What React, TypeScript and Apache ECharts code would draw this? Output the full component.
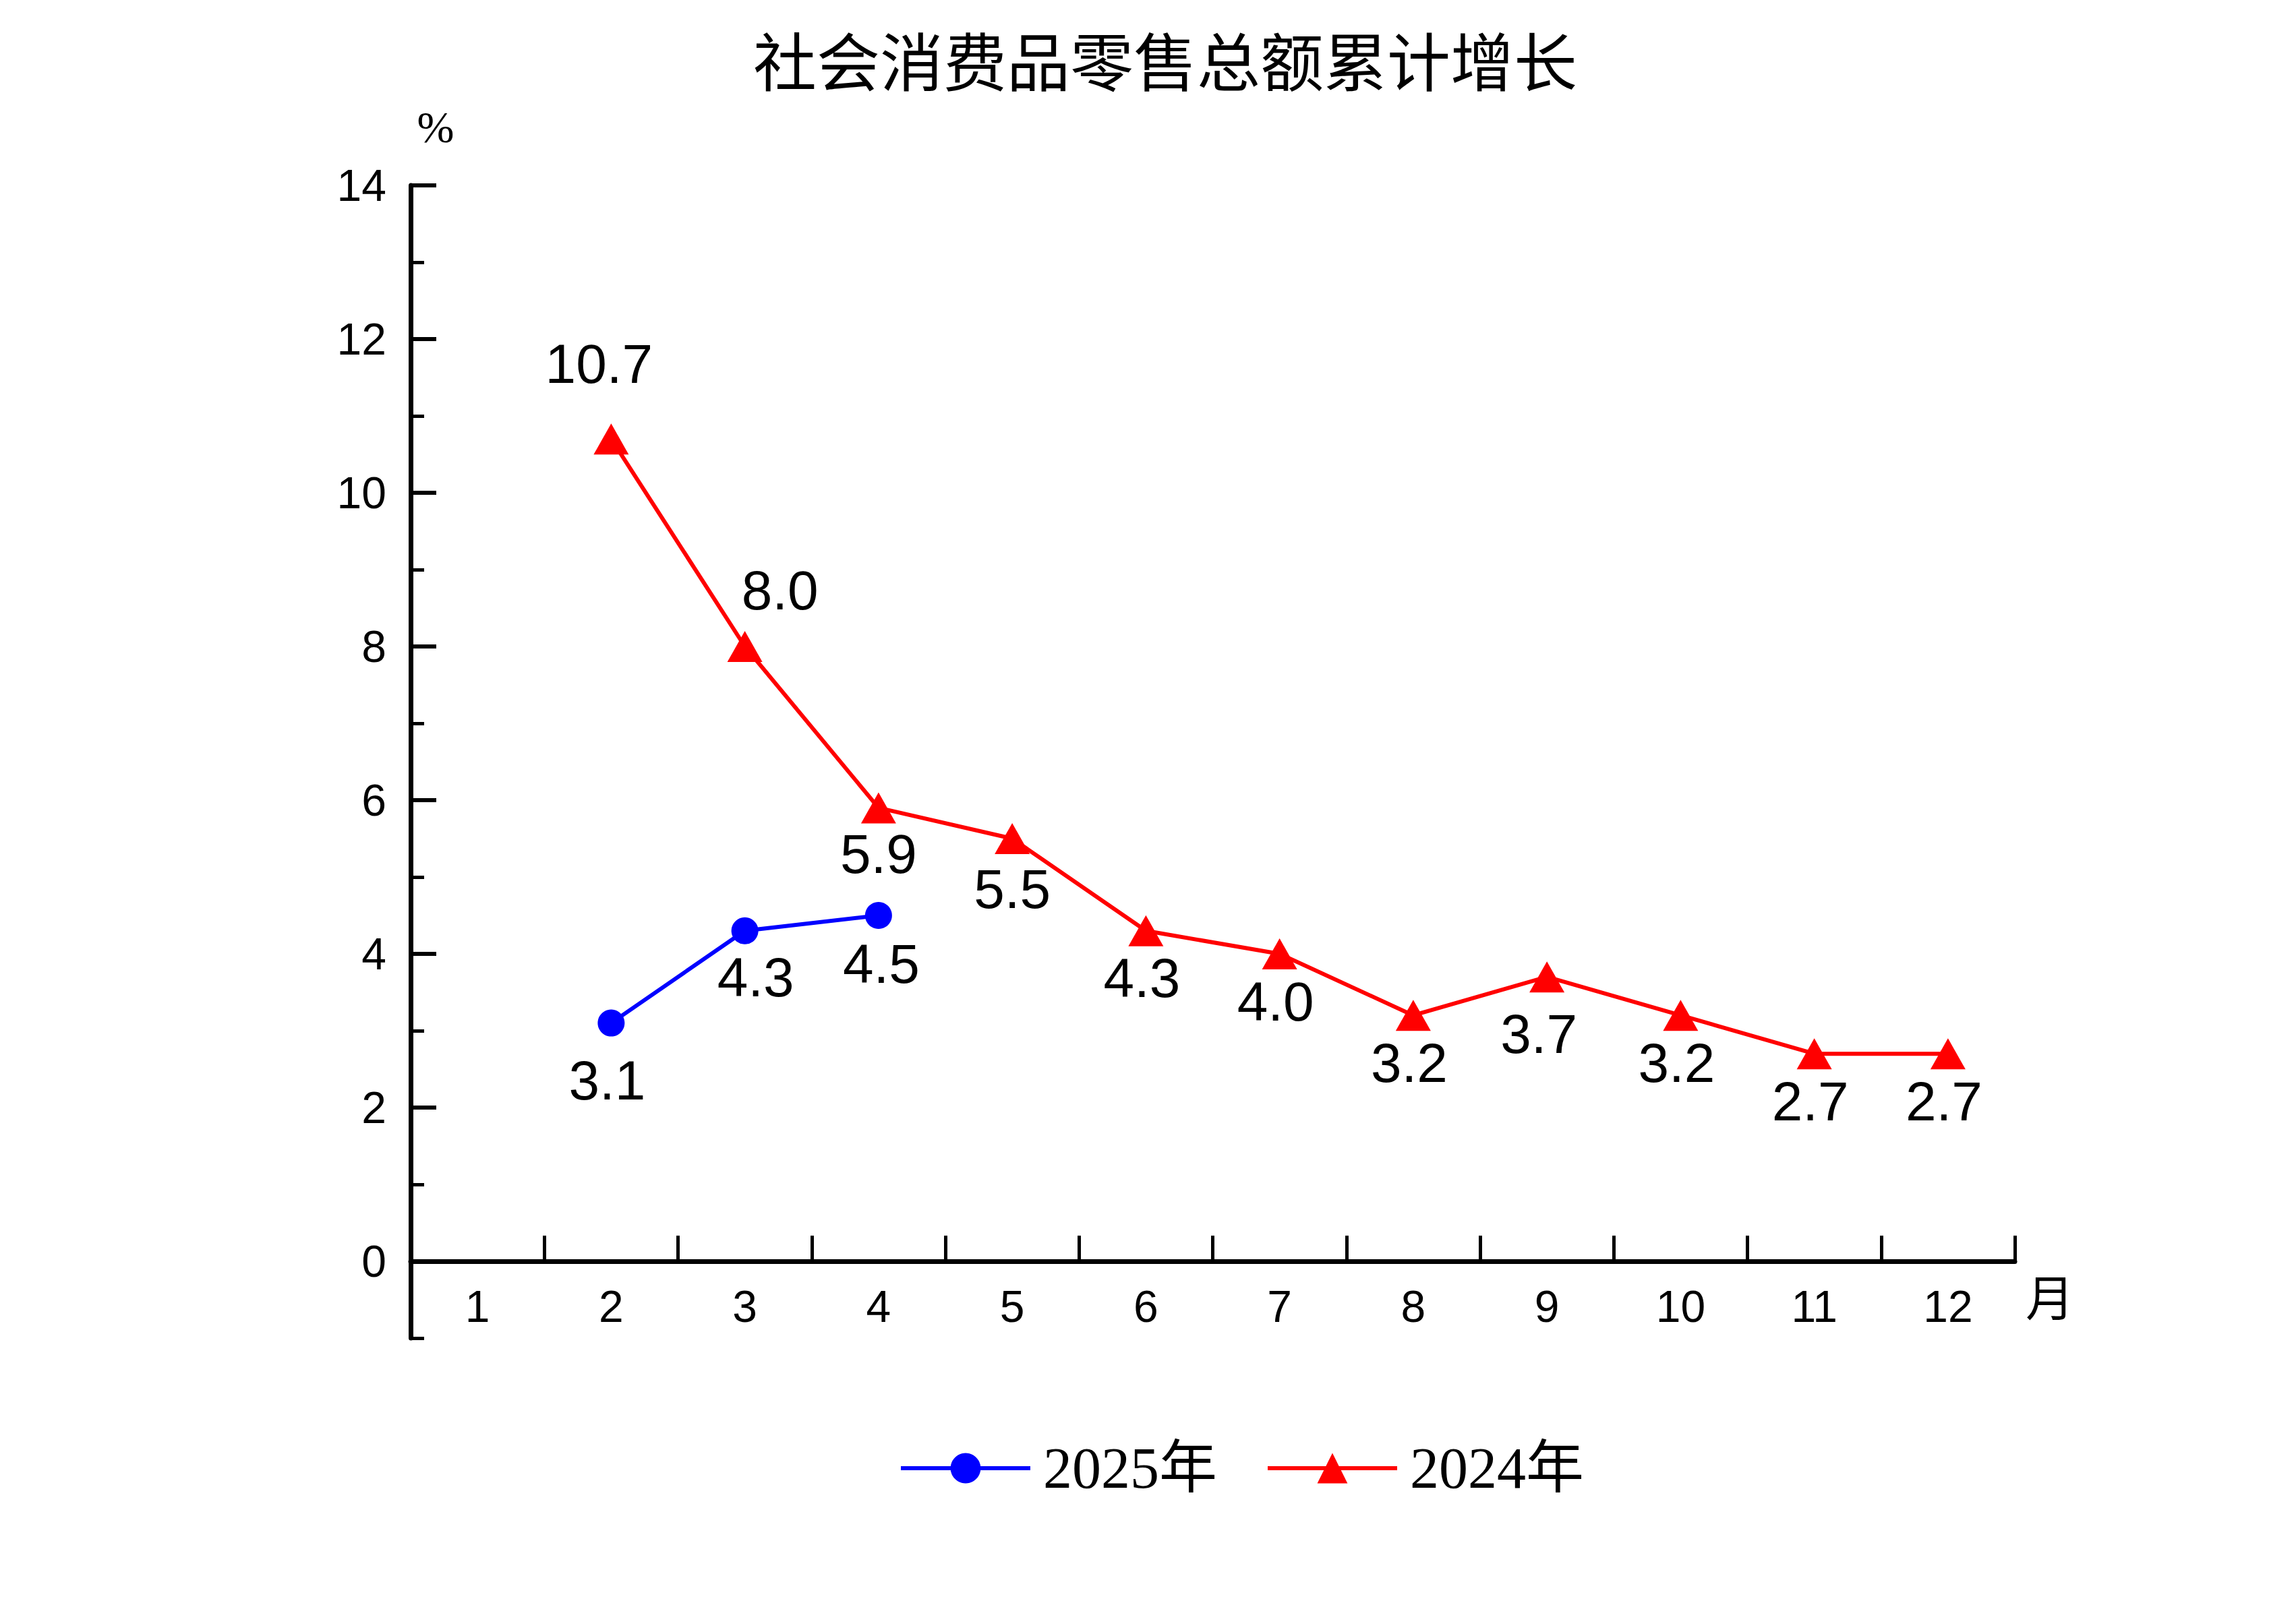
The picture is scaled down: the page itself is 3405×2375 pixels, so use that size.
import React, { useEffect, useRef } from "react";
import * as echarts from "echarts";

const months = ["1", "2", "3", "4", "5", "6", "7", "8", "9", "10", "11", "12"];
const growth2025: (number | null)[] = [null, 3.1, 4.3, 4.5, null, null, null, null, null, null, null, null];
const growth2024: (number | null)[] = [null, 10.7, 8.0, 5.9, 5.5, 4.3, 4.0, 3.2, 3.7, 3.2, 2.7, 2.7];
const yTicksMajor = [0, 2, 4, 6, 8, 10, 12, 14];
const seriesNames = ["2025年", "2024年"];
const titleText = "社会消费品零售总额累计增长";

const W = 3405;
const H = 2375;
const SANS = "'Liberation Sans', Arial, sans-serif";
const SERIF = "'Liberation Serif', 'Noto Sans CJK SC', serif";

export default function App() {
  const ref = useRef<HTMLDivElement>(null);
  useEffect(() => {
    if (!ref.current) return;
    const chart = echarts.init(ref.current, null, { renderer: "svg", width: W, height: H });
    const gridLeft = 609;
    const gridRight = W - 2988;
    const gridTop = 275;
    const zeroY = 1871;
    const minusOneY = 1985;

    const labelBase = {
      show: true,
      fontFamily: SANS,
      fontSize: 82,
      color: "#000",
      formatter: (p: any) => Number(p.value).toFixed(1),
    };

    const data2024 = growth2024.map((v, i) => {
      if (v === null) return null;
      if (i === 1) return { value: v, label: { position: "top", distance: 48, offset: [-18, 0] } };
      if (i === 2) return { value: v, label: { position: "top", distance: 20, offset: [52, 0] } };
      if (i === 3) return { value: v, label: { position: "bottom", distance: 4, offset: [0, 0] } };
      if (i === 4) return { value: v, label: { position: "bottom", distance: 10, offset: [0, 0] } };
      if (i === 8) return { value: v, label: { position: "bottom", distance: 20, offset: [-12, 0] } };
      return { value: v };
    });
    const data2025 = growth2025.map((v, i) => {
      if (v === null) return null;
      if (i === 1) return { value: v, label: { distance: 24, offset: [-6, 0] } };
      if (i === 2) return { value: v, label: { distance: 8, offset: [16, 0] } };
      return { value: v, label: { distance: 10, offset: [4, 0] } };
    });

    chart.setOption({
      animation: false,
      backgroundColor: "#fff",
      title: {
        text: titleText,
        left: 1112,
        top: 44,
        textStyle: { fontFamily: SERIF, fontSize: 94, fontWeight: "normal", color: "#000" },
      },
      legend: {
        data: seriesNames,
        left: 1328,
        top: 2130,
        itemWidth: 192,
        itemHeight: 56,
        itemGap: 72,
        lineStyle: { width: 6 },
        textStyle: { fontFamily: SERIF, fontSize: 86, color: "#000", padding: [0, 0, 0, 14] },
      },
      grid: [
        { left: gridLeft, right: gridRight, top: gridTop, bottom: H - minusOneY },
        { left: gridLeft, right: gridRight, top: gridTop, bottom: H - zeroY },
      ],
      xAxis: [
        {
          type: "category",
          gridIndex: 0,
          data: months,
          show: false,
        },
        {
          type: "category",
          gridIndex: 1,
          data: months,
          boundaryGap: true,
          axisLine: { show: true, onZero: false, lineStyle: { color: "#000", width: 7 } },
          axisTick: { show: true, inside: true, length: 38, lineStyle: { color: "#000", width: 5 } },
          axisLabel: { fontFamily: SANS, fontSize: 66, color: "#000", margin: 34 },
          splitLine: { show: false },
        },
      ],
      yAxis: [
        {
          type: "value",
          gridIndex: 0,
          min: -1,
          max: 14,
          interval: 1,
          axisLine: { show: true, lineStyle: { color: "#000", width: 7 } },
          axisTick: { show: true, inside: true, length: 20, lineStyle: { color: "#000", width: 5 } },
          axisLabel: { show: false },
          splitLine: { show: false },
        },
        {
          type: "value",
          gridIndex: 1,
          min: yTicksMajor[0],
          max: yTicksMajor[yTicksMajor.length - 1],
          interval: yTicksMajor[1] - yTicksMajor[0],
          axisLine: { show: false },
          axisTick: { show: true, inside: true, length: 38, lineStyle: { color: "#000", width: 6 } },
          axisLabel: { fontFamily: SANS, fontSize: 66, color: "#000", margin: 36 },
          splitLine: { show: false },
        },
      ],
      graphic: [
        {
          type: "text",
          x: 646,
          y: 188,
          style: { text: "%", fontFamily: SERIF, fontSize: 66, fill: "#000", textAlign: "center", textVerticalAlign: "middle" },
        },
        {
          type: "text",
          x: 3040,
          y: 1928,
          style: { text: "月", fontFamily: SERIF, fontSize: 72, fill: "#000", textAlign: "center", textVerticalAlign: "middle" },
        },
      ],
      series: [
        {
          name: seriesNames[0],
          type: "line",
          xAxisIndex: 1,
          yAxisIndex: 1,
          data: data2025,
          connectNulls: false,
          symbol: "circle",
          symbolSize: 40,
          itemStyle: { color: "#0000ff" },
          lineStyle: { color: "#0000ff", width: 6 },
          label: { ...labelBase, position: "bottom" },
          z: 3,
        },
        {
          name: seriesNames[1],
          type: "line",
          xAxisIndex: 1,
          yAxisIndex: 1,
          data: data2024,
          connectNulls: false,
          symbol: "triangle",
          symbolSize: [52, 46],
          itemStyle: { color: "#ff0000" },
          lineStyle: { color: "#ff0000", width: 6 },
          label: { ...labelBase, position: "bottom", distance: 6, offset: [-6, 0] },
          z: 2,
        },
      ],
    });
    return () => chart.dispose();
  }, []);
  return (
    <div
      ref={ref}
      style={{ position: "absolute", left: 0, top: 0, width: W + "px", height: H + "px", background: "#fff" }}
    />
  );
}
